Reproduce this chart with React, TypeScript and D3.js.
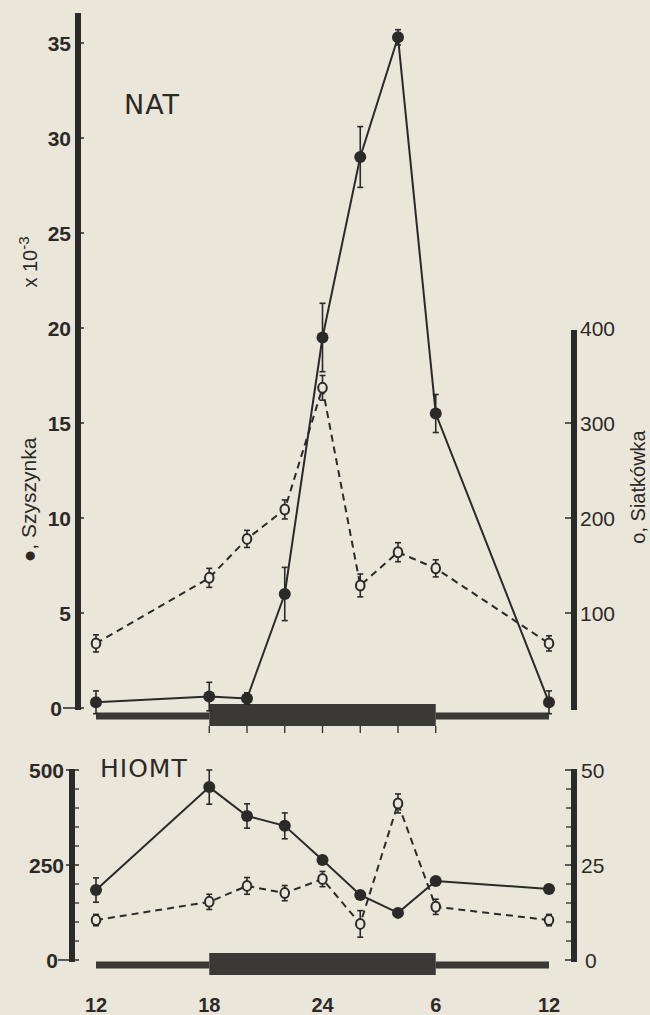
import React from "react";
import * as d3 from "d3";

// ---- data ----
const hours = [12, 18, 20, 22, 24, 26, 28, 30, 36];
const xTickHours = [12, 18, 24, 30, 36];
const xTickLabels = ["12", "18", "24", "6", "12"];
const phaseStart = [12, 18, 30];
const phaseEnd = [18, 30, 36];
const phaseDark = [false, true, false];
const barTickHours = [18, 20, 22, 24, 26, 28, 30];

// NAT panel
const natPineal = [0.3, 0.6, 0.5, 6.0, 19.5, 29.0, 35.3, 15.5, 0.3]; // x10^-3, Szyszynka (filled)
const natPinealErr = [0.6, 0.75, 0.3, 1.4, 1.8, 1.6, 0.4, 1.0, 0.6];
const natRetina = [68, 137, 178, 209, 337, 129, 164, 147, 68]; // Siatkówka (open)
const natRetinaErr = [9, 10, 9, 10, 13, 12, 10, 9, 8];
const natLeftTicks = [0, 5, 10, 15, 20, 25, 30, 35];
const natRightTicks = [100, 200, 300, 400];

// HIOMT panel
const hiomtPineal = [184, 455, 379, 353, 263, 171, 124, 208, 187];
const hiomtPinealErr = [32, 45, 32, 34, 10, 10, 8, 8, 6];
const hiomtRetina = [10.5, 15.3, 19.5, 17.6, 21.3, 9.5, 41.2, 14, 10.5];
const hiomtRetinaErr = [1.5, 2, 2.2, 2, 2, 3.5, 2.5, 2, 1.5];
const hiomtLeftTicks = [0, 250, 500];
const hiomtLeftMinor = [50, 100, 150, 200, 300, 350, 400, 450];
const hiomtRightTicks = [0, 25, 50];
const hiomtRightMinor = [5, 10, 15, 20, 30, 35, 40, 45];

const INK = "#2b2a28";
const BG = "#ebe6da";
const FONT = "'Liberation Sans', Arial, sans-serif";
const TITLE_FONT = "'DejaVu Sans', 'Liberation Sans', sans-serif";

const x = d3.scaleLinear().domain([12, 36]).range([96, 549]);

const yNatL = d3.scaleLinear().domain([0, 35]).range([708, 43]);
const yNatR = d3.scaleLinear().domain([0, 400]).range([708, 328]);
const yHioL = d3.scaleLinear().domain([0, 500]).range([960, 770]);
const yHioR = d3.scaleLinear().domain([0, 50]).range([960, 770]);

function Series({ vals, errs, y, filled }: { vals: number[]; errs: number[]; y: d3.ScaleLinear<number, number>; filled: boolean }) {
  const line = d3.line<number>().x((_, i) => x(hours[i])).y((v) => y(v));
  return (
    <g>
      <path d={line(vals) || ""} fill="none" stroke={INK} strokeWidth={2} strokeDasharray={filled ? undefined : "7,5"} />
      {vals.map((v, i) => {
        const cx = x(hours[i]);
        const t = y(v + errs[i]);
        const b = y(v - errs[i]);
        return (
          <g key={i}>
            <line x1={cx} x2={cx} y1={t} y2={b} stroke={INK} strokeWidth={1.6} />
            <line x1={cx - 3} x2={cx + 3} y1={t} y2={t} stroke={INK} strokeWidth={1.6} />
            <line x1={cx - 3} x2={cx + 3} y1={b} y2={b} stroke={INK} strokeWidth={1.6} />
            {filled ? (
              <circle cx={cx} cy={y(v)} r={6} fill={INK} />
            ) : (
              <ellipse cx={cx} cy={y(v)} rx={4.3} ry={5} fill={BG} stroke={INK} strokeWidth={2} />
            )}
          </g>
        );
      })}
    </g>
  );
}

function LDBar({ yc, thinH, thickH, ticks }: { yc: number; thinH: number; thickH: number; ticks: boolean }) {
  return (
    <g>
      {phaseStart.map((s, i) => {
        const h = phaseDark[i] ? thickH : thinH;
        const top = phaseDark[i] ? yc - thickH / 2 : yc - thinH / 2 + 1;
        return <rect key={i} x={x(s)} y={top} width={x(phaseEnd[i]) - x(s)} height={h} fill={INK} opacity={0.92} />;
      })}
      {ticks &&
        barTickHours.map((h) => (
          <line key={h} x1={x(h)} x2={x(h)} y1={yc + thickH / 2} y2={yc + thickH / 2 + 7} stroke={INK} strokeWidth={1.3} />
        ))}
    </g>
  );
}

export default function App() {
  return (
    <svg width={650} height={1015} style={{ position: "absolute", left: 0, top: 0 }} fontFamily={FONT}>
      <rect x={0} y={0} width={650} height={1015} fill={BG} />

      {/* ---------- NAT panel ---------- */}
      <rect x={75} y={13} width={6} height={697} fill={INK} />
      {natLeftTicks.map((t) => (
        <g key={t}>
          <line x1={t === 0 ? 63 : 80} x2={84} y1={yNatL(t)} y2={yNatL(t)} stroke={INK} strokeWidth={1.5} />
          <text x={t === 0 ? 62 : 71} y={yNatL(t) + 7.5} textAnchor="end" fontSize={21} fontWeight="bold" fill={INK}>
            {t}
          </text>
        </g>
      ))}
      <rect x={571} y={330} width={6} height={380} fill={INK} />
      {natRightTicks.map((t) => (
        <g key={t}>
          {t !== 400 && <line x1={565} x2={572} y1={yNatR(t)} y2={yNatR(t)} stroke={INK} strokeWidth={1.5} />}
          <text x={580} y={yNatR(t) + 7.5} textAnchor="start" fontSize={21} fill={INK}>
            {t}
          </text>
        </g>
      ))}
      <text transform="translate(37,262) rotate(-90)" textAnchor="middle" fontSize={20} fill={INK}>
        x 10<tspan dy={-8} fontSize={15}>-3</tspan>
      </text>
      <text transform="translate(36,500) rotate(-90)" textAnchor="middle" fontSize={21} fill={INK}>
        ●, Szyszynka
      </text>
      <text transform="translate(645,487) rotate(-90)" textAnchor="middle" fontSize={20} fill={INK}>
        o, Siatkówka
      </text>
      <text x={124} y={114} fontSize={27} fontFamily={TITLE_FONT} fill={INK} letterSpacing={1}>
        NAT
      </text>

      <LDBar yc={715} thinH={7} thickH={22} ticks={true} />
      <Series vals={natRetina} errs={natRetinaErr} y={yNatR} filled={false} />
      <Series vals={natPineal} errs={natPinealErr} y={yNatL} filled={true} />

      {/* ---------- HIOMT panel ---------- */}
      <rect x={69} y={769} width={6} height={193} fill={INK} />
      {hiomtLeftMinor.map((t) => (
        <line key={t} x1={74} x2={79} y1={yHioL(t)} y2={yHioL(t)} stroke={INK} strokeWidth={1.3} />
      ))}
      {hiomtLeftTicks.map((t) => (
        <g key={t}>
          <line x1={t === 0 ? 58 : 66} x2={79} y1={yHioL(t)} y2={yHioL(t)} stroke={INK} strokeWidth={1.5} />
          <text x={t === 0 ? 58 : 64} y={yHioL(t) + 7.5} textAnchor="end" fontSize={21} fontWeight="bold" fill={INK}>
            {t}
          </text>
        </g>
      ))}
      <rect x={571} y={769} width={6} height={193} fill={INK} />
      {hiomtRightMinor.map((t) => (
        <line key={t} x1={566} x2={572} y1={yHioR(t)} y2={yHioR(t)} stroke={INK} strokeWidth={1.3} />
      ))}
      {hiomtRightTicks.map((t) => (
        <g key={t}>
          <line x1={565} x2={572} y1={yHioR(t)} y2={yHioR(t)} stroke={INK} strokeWidth={1.5} />
          <text x={t === 0 ? 585 : 581} y={yHioR(t) + 7.5} textAnchor="start" fontSize={21} fill={INK}>
            {t}
          </text>
        </g>
      ))}
      <text x={100} y={777} fontSize={25} fontFamily={TITLE_FONT} fill={INK} letterSpacing={1}>
        HIOMT
      </text>

      <LDBar yc={964} thinH={7} thickH={22} ticks={false} />
      <Series vals={hiomtRetina} errs={hiomtRetinaErr} y={yHioR} filled={false} />
      <Series vals={hiomtPineal} errs={hiomtPinealErr} y={yHioL} filled={true} />

      {xTickHours.map((h, i) => (
        <text key={i} x={x(h)} y={1012} textAnchor="middle" fontSize={20} fontWeight="bold" fill={INK}>
          {xTickLabels[i]}
        </text>
      ))}
    </svg>
  );
}
